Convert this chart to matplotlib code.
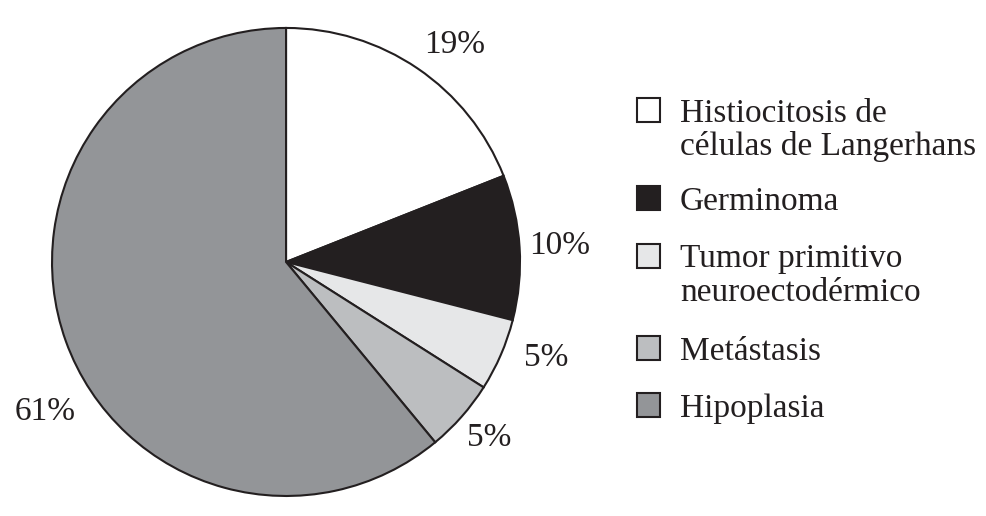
import matplotlib.pyplot as plt
from matplotlib.patches import Rectangle

plt.rcParams['font.family'] = ['Liberation Serif', 'DejaVu Serif']

# data
labels = ["Histiocitosis de\ncélulas de Langerhans", "Germinoma",
          "Tumor primitivo\nneuroectodérmico", "Metástasis", "Hipoplasia"]
values = [19, 10, 5, 5, 61]
colors = ["#ffffff", "#231f20", "#e6e7e8", "#bcbec0", "#939598"]

# where the percent labels sit (pie radius = 1)
pct_pos = [(0.72, 0.93), (1.17, 0.07), (1.11, -0.41), (0.87, -0.75), (-1.03, -0.64)]

W, H = 987, 516
fig = plt.figure(figsize=(W / 100, H / 100), dpi=100)
ax = fig.add_axes([0.0527, 0.0388, 0.4742, 0.907])

wedges, texts, autotexts = ax.pie(values, colors=colors, startangle=90, counterclock=False,
                                  radius=1.0, autopct='%d%%', pctdistance=1.18,
                                  wedgeprops=dict(edgecolor='#231f20', linewidth=1.5),
                                  textprops=dict(fontsize=24, color='#231f20'))
for t, p in zip(autotexts, pct_pos):
    t.set_position(p)
ax.set_xlim(-1, 1)
ax.set_ylim(-1, 1)
ax.set_aspect('equal')

# legend drawn by hand so the square sits on the first line of each entry
row_y = [110, 198, 256, 348, 405]   # first line centre, pixels from top
for lab, col, y in zip(labels, colors, row_y):
    fig.patches.append(Rectangle(((637) / W, (H - y - 12) / H), 23 / W, 24 / H,
                                 transform=fig.transFigure, facecolor=col,
                                 edgecolor='#231f20', linewidth=1.5))
    fig.text(680 / W, (H - y + 12) / H, lab, fontsize=24, color='#231f20',
             ha='left', va='top', linespacing=1.12)

plt.savefig("out.png", dpi=100)
